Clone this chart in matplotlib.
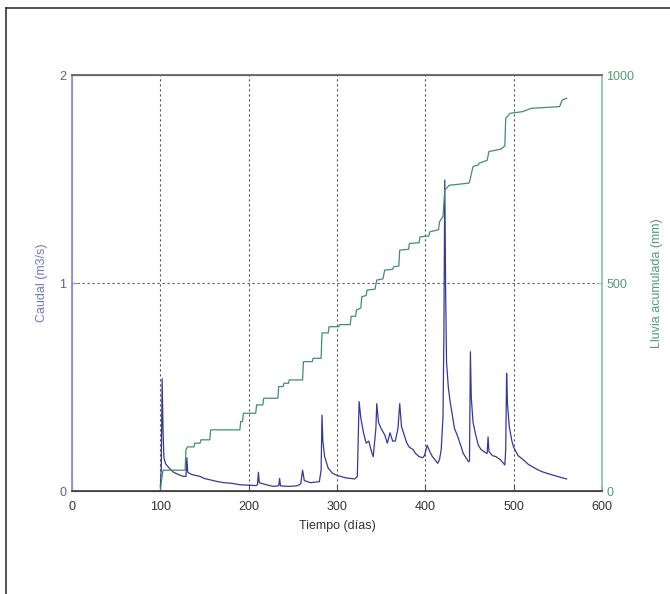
import matplotlib
matplotlib.use("Agg")
import matplotlib.pyplot as plt
from matplotlib.lines import Line2D

plt.rcParams['font.family'] = ['Liberation Sans', 'DejaVu Sans']

# caudal diario (m3/s)
dia_q = [100, 101, 102, 103, 104, 106, 110, 115, 120, 126, 129, 130, 131, 135, 140,
         145, 150, 157, 165, 172, 181, 190, 200, 208, 210, 211, 212, 220, 228, 234,
         235, 236, 245, 255, 259, 261, 263, 270, 280, 282, 283, 284, 286, 290, 295,
         300, 310, 320, 323, 325, 327, 330, 333, 336, 339, 341, 344, 345, 347, 350,
         354, 357, 360, 363, 366, 369, 371, 373, 376, 379, 382, 386, 389, 393, 397,
         399, 402, 405, 408, 411, 414, 416, 418, 420, 421, 422, 423, 424, 426, 428,
         430, 433, 436, 440, 443, 446, 449, 450, 451, 452, 454, 457, 460, 463, 466,
         470, 471, 472, 476, 480, 485, 490, 491, 492, 493, 495, 498, 500, 505, 511,
         516, 521, 526, 532, 540, 548, 556, 560]
caudal = [0.02, 0.10, 0.54, 0.30, 0.16, 0.13, 0.11, 0.09, 0.08, 0.07, 0.07, 0.16, 0.09, 0.08, 0.075,
          0.07, 0.06, 0.053, 0.045, 0.04, 0.037, 0.03, 0.028, 0.026, 0.03, 0.09, 0.04, 0.03, 0.022, 0.025,
          0.06, 0.025, 0.022, 0.025, 0.035, 0.10, 0.05, 0.04, 0.045, 0.10, 0.365, 0.24, 0.165, 0.11, 0.085,
          0.075, 0.063, 0.058, 0.07, 0.43, 0.35, 0.28, 0.23, 0.24, 0.19, 0.165, 0.30, 0.42, 0.33, 0.30,
          0.27, 0.23, 0.28, 0.24, 0.24, 0.30, 0.42, 0.31, 0.27, 0.23, 0.21, 0.20, 0.18, 0.165, 0.16,
          0.17, 0.22, 0.19, 0.165, 0.15, 0.133, 0.15, 0.20, 0.36, 0.75, 1.495, 0.95, 0.62, 0.50, 0.43,
          0.38, 0.30, 0.27, 0.22, 0.18, 0.16, 0.14, 0.145, 0.67, 0.45, 0.33, 0.27, 0.22, 0.20, 0.19,
          0.18, 0.26, 0.19, 0.17, 0.165, 0.15, 0.125, 0.20, 0.566, 0.42, 0.31, 0.24, 0.21, 0.17, 0.15,
          0.13, 0.117, 0.105, 0.093, 0.082, 0.072, 0.062, 0.058]

# lluvia acumulada (mm)
dia_ll = [100, 101, 103, 128, 129, 131, 138, 139, 145, 146, 156, 157, 190, 191, 193,
          194, 208, 209, 216, 217, 233, 234, 239, 240, 245, 246, 261, 262, 272, 273,
          282, 283, 290, 291, 302, 303, 315, 316, 321, 322, 327, 328, 333, 334, 343,
          345, 352, 354, 363, 364, 370, 371, 381, 382, 393, 394, 404, 405, 415, 416,
          420, 422, 427, 449, 450, 454, 460, 461, 470, 472, 486, 487, 490, 491, 496,
          510, 520, 552, 555, 560]
lluvia = [0, 20, 50, 50, 100, 106, 106, 115, 115, 123, 123, 147, 147, 167, 167,
          187, 187, 207, 207, 223, 223, 251, 251, 259, 259, 267, 267, 311, 311, 319,
          319, 380, 380, 395, 395, 400, 400, 420, 420, 435, 440, 467, 470, 483, 485,
          507, 510, 531, 533, 539, 541, 579, 581, 595, 597, 611, 613, 623, 628, 647,
          660, 723, 735, 740, 743, 780, 784, 788, 795, 816, 822, 824, 830, 896, 908,
          912, 920, 924, 940, 944]

x_ticks = [0, 100, 200, 300, 400, 500, 600]

azul = '#34399a'
verde = '#3f8f6c'

fig = plt.figure(figsize=(6.7, 5.94), dpi=100)
ax = fig.add_axes([0.1075, 0.1734, 0.791, 0.7003])
ax2 = ax.twinx()

ax.plot(dia_q, caudal, color=azul, lw=0.9)
ax2.plot(dia_ll, lluvia, color=verde, lw=0.9)

ax.set_xlim(0, 600)
ax.set_ylim(0, 2)
ax2.set_ylim(0, 1000)
ax.set_xticks(x_ticks)
ax.set_yticks([0, 1, 2])
ax2.set_yticks([0, 500, 1000])

ax.grid(True, linestyle=(0, (2, 2.5)), color='#555555', lw=0.8)

ax.tick_params(axis='x', direction='in', length=4, colors='#555555', labelcolor='#333333', labelsize=9, pad=7)
ax.tick_params(axis='y', direction='in', length=4, colors='#8a8fc4', labelcolor='#5c5f8e', labelsize=9, pad=4)
ax2.tick_params(axis='y', direction='in', length=4, colors='#8cc7ae', labelcolor='#4f9c7c', labelsize=9, pad=3)

for a in (ax, ax2):
    a.spines['top'].set_color('#666666')
    a.spines['bottom'].set_color('#444444')
    a.spines['left'].set_color('#8e94c8')
ax2.spines['right'].set_color('#8cc7ae')
ax.spines['right'].set_visible(False)
for s in ax2.spines.values():
    s.set_linewidth(1.3)

ax.set_xlabel('Tiempo (días)', fontsize=9, color='#333333', labelpad=5)
ax.set_ylabel('Caudal (m3/s)', fontsize=9, color='#7078c4', labelpad=8)
ax2.set_ylabel('Lluvia acumulada (mm)', fontsize=9, color='#4f9c7c', labelpad=12)

# marco de la figura
fig.add_artist(Line2D([6 / 670, 6 / 670], [0, 1 - 8 / 594], transform=fig.transFigure, color='#333333', lw=1.2))
fig.add_artist(Line2D([6 / 670, 1], [1 - 8 / 594, 1 - 8 / 594], transform=fig.transFigure, color='#333333', lw=1.2))

fig.savefig('out.png', dpi=100)
